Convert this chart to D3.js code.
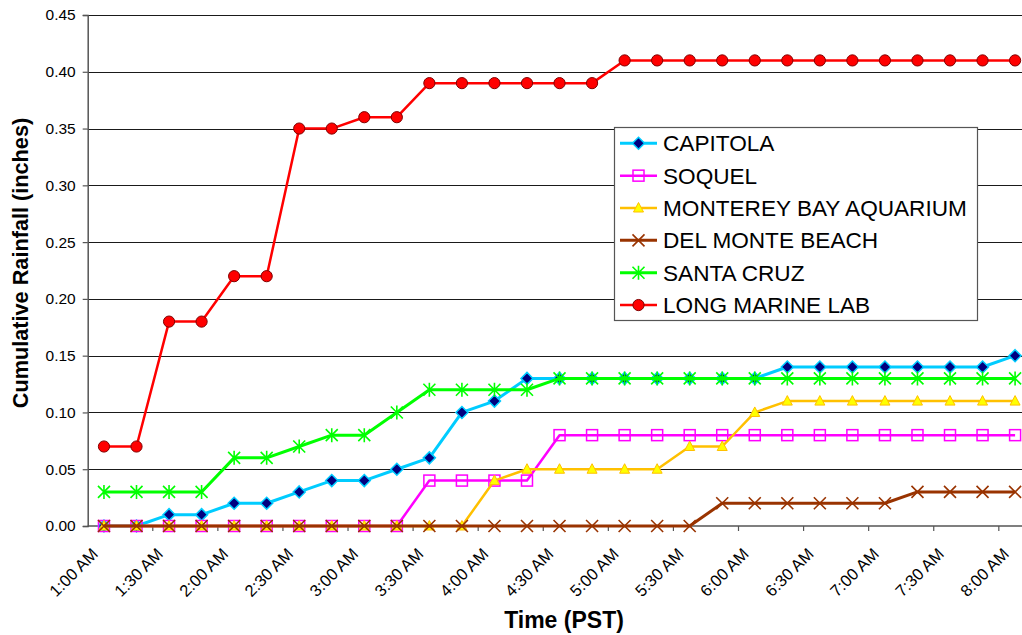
<!DOCTYPE html>
<html>
<head>
<meta charset="utf-8">
<script src="https://cdn.jsdelivr.net/npm/d3@7"></script>
<style>
  html, body { margin: 0; padding: 0; background: #fff; }
  svg { display: block; font-family: Arial, "Liberation Sans", sans-serif; }
</style>
</head>
<body>
<svg id="chart" width="1022" height="635"></svg>
<script>
const categories = ["1:00 AM","1:15 AM","1:30 AM","1:45 AM","2:00 AM","2:15 AM","2:30 AM","2:45 AM",
  "3:00 AM","3:15 AM","3:30 AM","3:45 AM","4:00 AM","4:15 AM","4:30 AM","4:45 AM","5:00 AM","5:15 AM",
  "5:30 AM","5:45 AM","6:00 AM","6:15 AM","6:30 AM","6:45 AM","7:00 AM","7:15 AM","7:30 AM","7:45 AM","8:00 AM"];

const seriesNames = ["CAPITOLA","SOQUEL","MONTEREY BAY AQUARIUM","DEL MONTE BEACH","SANTA CRUZ","LONG MARINE LAB"];

const capitola = [0,0,0.01,0.01,0.02,0.02,0.03,0.04,0.04,0.05,0.06,0.10,0.11,0.13,0.13,0.13,0.13,0.13,0.13,0.13,0.13,0.14,0.14,0.14,0.14,0.14,0.14,0.14,0.15];
const soquel = [0,0,0,0,0,0,0,0,0,0,0.04,0.04,0.04,0.04,0.08,0.08,0.08,0.08,0.08,0.08,0.08,0.08,0.08,0.08,0.08,0.08,0.08,0.08,0.08];
const montereyBayAquarium = [0,0,0,0,0,0,0,0,0,0,0,0,0.04,0.05,0.05,0.05,0.05,0.05,0.07,0.07,0.10,0.11,0.11,0.11,0.11,0.11,0.11,0.11,0.11];
const delMonteBeach = [0,0,0,0,0,0,0,0,0,0,0,0,0,0,0,0,0,0,0,0.02,0.02,0.02,0.02,0.02,0.02,0.03,0.03,0.03,0.03];
const santaCruz = [0.03,0.03,0.03,0.03,0.06,0.06,0.07,0.08,0.08,0.10,0.12,0.12,0.12,0.12,0.13,0.13,0.13,0.13,0.13,0.13,0.13,0.13,0.13,0.13,0.13,0.13,0.13,0.13,0.13];
const longMarineLab = [0.07,0.07,0.18,0.18,0.22,0.22,0.35,0.35,0.36,0.36,0.39,0.39,0.39,0.39,0.39,0.39,0.41,0.41,0.41,0.41,0.41,0.41,0.41,0.41,0.41,0.41,0.41,0.41,0.41];

const yTicks = [0,0.05,0.10,0.15,0.20,0.25,0.30,0.35,0.40,0.45];
const xTickLabels = categories.filter((d, i) => i % 2 === 0);

const seriesValues = [capitola, soquel, montereyBayAquarium, delMonteBeach, santaCruz, longMarineLab];

const styles = [
  { line: "#00CCFF", width: 3,   marker: "diamond",  fill: "#000080", stroke: "#00CCFF" },
  { line: "#FF00FF", width: 2.5, marker: "square",   fill: "none",    stroke: "#FF00FF" },
  { line: "#FFC000", width: 2.5, marker: "triangle", fill: "#FFFF00", stroke: "#FFC000" },
  { line: "#993300", width: 3,   marker: "x",        fill: "none",    stroke: "#993300" },
  { line: "#00FF00", width: 3,   marker: "star",     fill: "none",    stroke: "#00FF00" },
  { line: "#FF0000", width: 2.5, marker: "circle",   fill: "#FF0000", stroke: "#800000" }
];

const svg = d3.select("#chart");
const left = 87.7, step = 32.54;
const x = d3.scaleBand().domain(categories).range([left, left + step * categories.length]).padding(0);
const y = d3.scaleLinear().domain([0, 0.45]).range([526, 15]);
const cx = c => x(c) + x.bandwidth() / 2;

// gridlines
svg.append("g").selectAll("line").data(yTicks.filter(t => t > 0)).join("line")
  .attr("x1", left).attr("x2", 1022)
  .attr("y1", d => Math.round(y(d)) + 0.5).attr("y2", d => Math.round(y(d)) + 0.5)
  .attr("stroke", "#1a1a1a").attr("stroke-width", 1);

// y axis
const yAxis = d3.axisLeft(y).tickValues(yTicks).tickFormat(d3.format(".2f")).tickSize(5).tickPadding(7);
const gy = svg.append("g").attr("transform", `translate(${left},0)`).call(yAxis);
gy.select(".domain").attr("stroke", "#555").attr("stroke-width", 1.5);
gy.selectAll(".tick line").attr("stroke", "#555").attr("stroke-width", 1.2);
gy.selectAll(".tick text").attr("font-size", 15.5).attr("fill", "#000").attr("font-family", "Arial, 'Liberation Sans', sans-serif");

// x axis baseline
svg.append("line").attr("x1", left).attr("x2", 1022).attr("y1", y(0)).attr("y2", y(0))
  .attr("stroke", "#555").attr("stroke-width", 1.5);
// x tick marks every 2 categories
svg.append("g").selectAll("line").data(categories.filter((d, i) => i % 2 === 0 && i > 0)).join("line")
  .attr("x1", d => x(d)).attr("x2", d => x(d))
  .attr("y1", y(0)).attr("y2", y(0) + 5)
  .attr("stroke", "#555").attr("stroke-width", 1.2);
// x tick labels
svg.append("g").selectAll("text").data(xTickLabels).join("text")
  .attr("transform", d => `translate(${cx(d) - 5},555) rotate(-45)`)
  .attr("text-anchor", "end")
  .attr("font-size", 16.5).attr("fill", "#000")
  .text(d => d);

// axis titles
svg.append("text").attr("x", 564).attr("y", 628).attr("text-anchor", "middle")
  .attr("font-size", 23).attr("font-weight", "bold").text("Time (PST)");
svg.append("text").attr("transform", "translate(28,263) rotate(-90)").attr("text-anchor", "middle")
  .attr("font-size", 21.7).attr("font-weight", "bold").text("Cumulative Rainfall (inches)");

function drawMarker(g, type, st) {
  if (type === "diamond") {
    g.append("path").attr("d", "M0,-6L6,0L0,6L-6,0Z").attr("fill", st.fill).attr("stroke", st.stroke).attr("stroke-width", 1.5);
  } else if (type === "square") {
    g.append("rect").attr("x", -5.5).attr("y", -5.5).attr("width", 11).attr("height", 11)
      .attr("fill", "none").attr("stroke", st.stroke).attr("stroke-width", 1.5);
  } else if (type === "triangle") {
    g.append("path").attr("d", "M0,-5.5L5,4L-5,4Z").attr("fill", st.fill).attr("stroke", st.stroke).attr("stroke-width", 1);
  } else if (type === "x") {
    g.append("path").attr("d", "M-6,-6L6,6M-6,6L6,-6").attr("stroke", st.stroke).attr("stroke-width", 1.6);
  } else if (type === "star") {
    g.append("path").attr("d", "M-6,-6L6,6M-6,6L6,-6M0,-7L0,7").attr("stroke", st.stroke).attr("stroke-width", 1.6);
  } else if (type === "circle") {
    g.append("circle").attr("r", 5.6).attr("fill", st.fill).attr("stroke", st.stroke).attr("stroke-width", 1);
  }
}

const line = d3.line().x((d, i) => cx(categories[i])).y(d => y(d));

seriesValues.forEach((vals, si) => {
  const st = styles[si];
  const g = svg.append("g");
  g.append("path").datum(vals).attr("d", line).attr("fill", "none")
    .attr("stroke", st.line).attr("stroke-width", st.width).attr("stroke-linejoin", "round");
  vals.forEach((v, i) => {
    const mg = g.append("g").attr("transform", `translate(${cx(categories[i])},${y(v)})`);
    drawMarker(mg, st.marker, st);
  });
});

// legend
const lg = svg.append("g");
lg.append("rect").attr("x", 614.5).attr("y", 127.5).attr("width", 363).attr("height", 193)
  .attr("fill", "#fff").attr("stroke", "#555").attr("stroke-width", 1.2);
seriesNames.forEach((name, i) => {
  const ry = 143.3 + i * 32.35;
  const st = styles[i];
  lg.append("line").attr("x1", 620).attr("x2", 657).attr("y1", ry).attr("y2", ry)
    .attr("stroke", st.line).attr("stroke-width", st.width);
  const mg = lg.append("g").attr("transform", `translate(638.5,${ry})`);
  drawMarker(mg, st.marker, st);
  lg.append("text").attr("x", 663).attr("y", ry + 8).attr("font-size", 22.6).attr("fill", "#000").text(name);
});
</script>
</body>
</html>
